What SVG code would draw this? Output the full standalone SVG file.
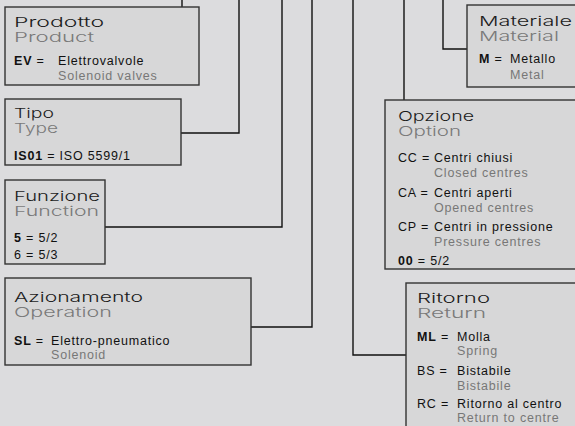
<svg xmlns="http://www.w3.org/2000/svg" width="575" height="426" viewBox="0 0 575 426">
<style>
.bg{fill:#dcdcde}
.box{fill:#d7d7d8;stroke:#333;stroke-width:1.4}
.con{fill:none;stroke:#111;stroke-width:1.4}
.t{font-family:Inter,"Liberation Sans",Arial,sans-serif;font-weight:300;font-size:13.5px;fill:#1c1c1c}
.s{font-family:Inter,"Liberation Sans",Arial,sans-serif;font-weight:300;font-size:13.5px;fill:#7a7a7a}
.b{font-family:"Liberation Sans",Arial,sans-serif;font-size:12.5px;fill:#111;letter-spacing:0.8px}
.g{font-family:"Liberation Sans",Arial,sans-serif;font-size:12.5px;fill:#777;letter-spacing:0.8px}
.k{font-weight:bold}
</style>
<rect class="bg" x="0" y="0" width="575" height="426"/>
<g id="connectors">
<path class="con" d="M182,0V7"/>
<path class="con" d="M181,133H239V0"/>
<path class="con" d="M105,227H282V0"/>
<path class="con" d="M251,327H312V0"/>
<path class="con" d="M353,0V355H406"/>
<path class="con" d="M404,0V100"/>
<path class="con" d="M443,0V49H467"/>
</g>
<g id="prodotto">
<rect class="box" x="5" y="7" width="194" height="78"/>
<text class="t" x="14" y="27" textLength="90" lengthAdjust="spacingAndGlyphs">Prodotto</text>
<text class="s" x="14" y="41.5" textLength="80" lengthAdjust="spacingAndGlyphs">Product</text>
<text class="b" x="14" y="65"><tspan class="k">EV</tspan> =</text>
<text class="b" x="58" y="65">Elettrovalvole</text>
<text class="g" x="58" y="80">Solenoid valves</text>
</g>
<g id="tipo">
<rect class="box" x="5" y="99" width="176" height="66"/>
<text class="t" x="14" y="118" textLength="40" lengthAdjust="spacingAndGlyphs">Tipo</text>
<text class="s" x="14" y="133" textLength="44" lengthAdjust="spacingAndGlyphs">Type</text>
<text class="b" x="14" y="160"><tspan class="k">IS01</tspan> = ISO 5599/1</text>
</g>
<g id="funzione">
<rect class="box" x="5" y="180" width="100" height="84"/>
<text class="t" x="14" y="201" textLength="86" lengthAdjust="spacingAndGlyphs">Funzione</text>
<text class="s" x="14" y="216" textLength="85" lengthAdjust="spacingAndGlyphs">Function</text>
<text class="b" x="14" y="242"><tspan class="k">5</tspan> = 5/2</text>
<text class="b" x="14" y="259">6 = 5/3</text>
</g>
<g id="azionamento">
<rect class="box" x="5" y="278" width="246" height="87"/>
<text class="t" x="14" y="302" textLength="129" lengthAdjust="spacingAndGlyphs">Azionamento</text>
<text class="s" x="14" y="317" textLength="98" lengthAdjust="spacingAndGlyphs">Operation</text>
<text class="b" x="14" y="345"><tspan class="k">SL</tspan> =</text>
<text class="b" x="51" y="345">Elettro-pneumatico</text>
<text class="g" x="51" y="359">Solenoid</text>
</g>
<g id="materiale">
<rect class="box" x="467" y="5" width="120" height="82"/>
<text class="t" x="479" y="25.5" textLength="93" lengthAdjust="spacingAndGlyphs">Materiale</text>
<text class="s" x="479" y="40.5" textLength="80" lengthAdjust="spacingAndGlyphs">Material</text>
<text class="b" x="479" y="63"><tspan class="k">M</tspan> =</text>
<text class="b" x="510" y="63">Metallo</text>
<text class="g" x="510" y="79">Metal</text>
</g>
<g id="opzione">
<rect class="box" x="385" y="100" width="200" height="169"/>
<text class="t" x="398" y="120.5" textLength="76" lengthAdjust="spacingAndGlyphs">Opzione</text>
<text class="s" x="398" y="135.5" textLength="63" lengthAdjust="spacingAndGlyphs">Option</text>
<text class="b" x="398" y="162">CC =</text>
<text class="b" x="434" y="162">Centri chiusi</text>
<text class="g" x="434" y="177">Closed centres</text>
<text class="b" x="398" y="196.5">CA =</text>
<text class="b" x="434" y="196.5">Centri aperti</text>
<text class="g" x="434" y="211.5">Opened centres</text>
<text class="b" x="398" y="231">CP =</text>
<text class="b" x="434" y="231">Centri in pressione</text>
<text class="g" x="434" y="246">Pressure centres</text>
<text class="b" x="398" y="265"><tspan class="k">00</tspan> = 5/2</text>
</g>
<g id="ritorno">
<rect class="box" x="406" y="283" width="180" height="160"/>
<text class="t" x="417" y="302.5" textLength="73" lengthAdjust="spacingAndGlyphs">Ritorno</text>
<text class="s" x="417" y="317.5" textLength="69" lengthAdjust="spacingAndGlyphs">Return</text>
<text class="b" x="417" y="341"><tspan class="k">ML</tspan> =</text>
<text class="b" x="457" y="341">Molla</text>
<text class="g" x="457" y="355">Spring</text>
<text class="b" x="417" y="375">BS =</text>
<text class="b" x="457" y="375">Bistabile</text>
<text class="g" x="457" y="389.5">Bistabile</text>
<text class="b" x="417" y="408">RC =</text>
<text class="b" x="457" y="408">Ritorno al centro</text>
<text class="g" x="457" y="422">Return to centre</text>
</g>
</svg>
